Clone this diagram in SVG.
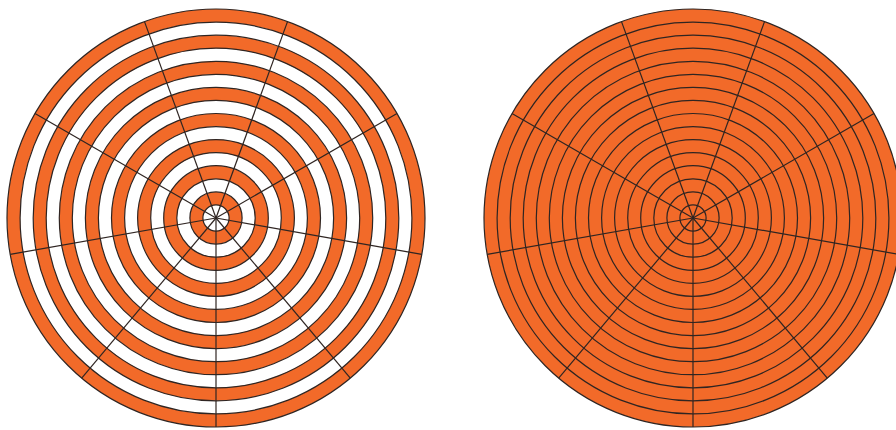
<svg xmlns="http://www.w3.org/2000/svg" width="896" height="430" viewBox="0 0 896 430">
<style>
.o{fill:#F26A29;stroke:#2f2522;stroke-width:1.2}
.w{fill:#ffffff;stroke:#2f2522;stroke-width:1.2}
.r{fill:none;stroke:#2f2522;stroke-width:1.2}
.s{stroke:#2f2522;stroke-width:1.2;fill:none}
</style>
<defs>
<g id="spokes">
<line class="s" x1="0" y1="0" x2="0" y2="209"/>
<line class="s" x1="0" y1="0" x2="134.3" y2="160.1"/>
<line class="s" x1="0" y1="0" x2="-134.3" y2="160.1"/>
<line class="s" x1="0" y1="0" x2="205.8" y2="36.3"/>
<line class="s" x1="0" y1="0" x2="-205.8" y2="36.3"/>
<line class="s" x1="0" y1="0" x2="181" y2="-104.5"/>
<line class="s" x1="0" y1="0" x2="-181" y2="-104.5"/>
<line class="s" x1="0" y1="0" x2="71.5" y2="-196.4"/>
<line class="s" x1="0" y1="0" x2="-71.5" y2="-196.4"/>
</g>
</defs>
<g id="left-disc" transform="translate(216,218)">
<circle class="o" r="209"/>
<circle class="w" r="195.9"/>
<circle class="o" r="182.8"/>
<circle class="w" r="169.8"/>
<circle class="o" r="156.7"/>
<circle class="w" r="143.7"/>
<circle class="o" r="130.6"/>
<circle class="w" r="117.6"/>
<circle class="o" r="104.5"/>
<circle class="w" r="91.4"/>
<circle class="o" r="78.4"/>
<circle class="w" r="65.3"/>
<circle class="o" r="52.3"/>
<circle class="w" r="39.2"/>
<circle class="o" r="26.1"/>
<circle class="w" r="13.1"/>
<use href="#spokes"/>
</g>
<g id="right-disc" transform="translate(693,218)">
<circle class="o" r="209"/>
<circle class="r" r="195.9"/>
<circle class="r" r="182.8"/>
<circle class="r" r="169.8"/>
<circle class="r" r="156.7"/>
<circle class="r" r="143.7"/>
<circle class="r" r="130.6"/>
<circle class="r" r="117.6"/>
<circle class="r" r="104.5"/>
<circle class="r" r="91.4"/>
<circle class="r" r="78.4"/>
<circle class="r" r="65.3"/>
<circle class="r" r="52.3"/>
<circle class="r" r="39.2"/>
<circle class="r" r="26.1"/>
<circle class="r" r="13.1"/>
<use href="#spokes"/>
</g>
</svg>
